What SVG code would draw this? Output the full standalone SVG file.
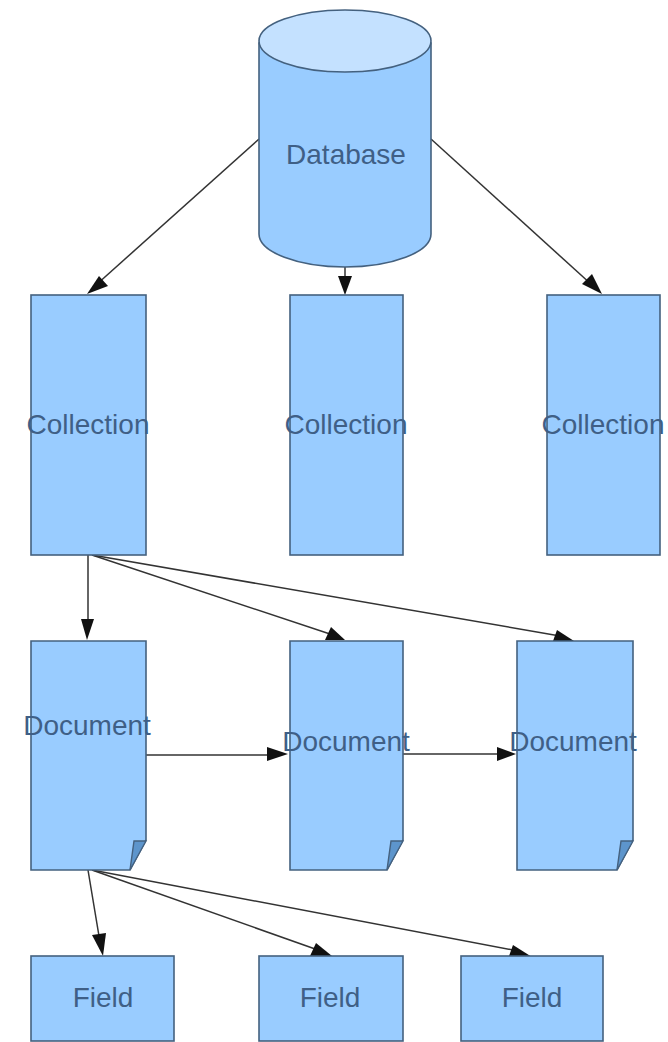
<svg xmlns="http://www.w3.org/2000/svg" width="668" height="1042" viewBox="0 0 668 1042">
<style>
.n{fill:#99ccff;stroke:#44617f;stroke-width:1.6}
.t{font-family:"Liberation Sans",Arial,sans-serif;font-size:28px;fill:#3f5f86;text-anchor:middle}
.c{stroke:#333;stroke-width:1.5;fill:none}
.h{fill:#111;stroke:none}
</style>
<rect width="668" height="1042" fill="#fff"/>
<g id="connectors">
<path class="c" d="M259 139L96 285"/><polygon class="h" points="87,294 99,276 108,286"/>
<path class="c" d="M345 267V280"/><polygon class="h" points="345,295 338,276 352,276"/>
<path class="c" d="M431 139L592 285"/><polygon class="h" points="602,294 582,284 592,274"/>
<path class="c" d="M88 555V625"/><polygon class="h" points="87,640 81,619 94,619"/>
<path class="c" d="M92 555L330 634"/><polygon class="h" points="345,640 325,640 331,627"/>
<path class="c" d="M92 555L560 636"/><polygon class="h" points="574,641 553,641 557,630"/>
<path class="c" d="M146 755H272"/><polygon class="h" points="288,754 267,747 267,761"/>
<path class="c" d="M403 754H500"/><polygon class="h" points="516,754 497,747 497,761"/>
<path class="c" d="M88 870L100 942"/><polygon class="h" points="103,956 92,935 106,933"/>
<path class="c" d="M92 870L318 950"/><polygon class="h" points="332,956 310,956 316,943"/>
<path class="c" d="M92 870L518 951"/><polygon class="h" points="532,957 509,956 513,945"/>
</g>
<g id="database">
<path class="n" d="M259 43V234C259 252 298 267 345 267S431 252 431 234V43Z"/>
<ellipse cx="345" cy="41" rx="86" ry="31" fill="#c4e1ff" stroke="#44617f" stroke-width="1.6"/>
<text class="t" x="346" y="164">Database</text>
</g>
<g id="collection1"><rect class="n" x="31" y="295" width="115" height="260"/><text class="t" x="88" y="434">Collection</text></g>
<g id="collection2"><rect class="n" x="290" y="295" width="113" height="260"/><text class="t" x="346" y="434">Collection</text></g>
<g id="collection3"><rect class="n" x="547" y="295" width="113" height="260"/><text class="t" x="603" y="434">Collection</text></g>
<g id="document1"><path class="n" d="M31 641H146V840L130 870H31Z"/><path d="M134 841H146L130 870Z" fill="#5d95cc" stroke="#44617f" stroke-width="1.4"/><text class="t" x="87" y="735">Document</text></g>
<g id="document2"><path class="n" d="M290 641H403V840L387 870H290Z"/><path d="M391 841H403L387 870Z" fill="#5d95cc" stroke="#44617f" stroke-width="1.4"/><text class="t" x="346" y="751">Document</text></g>
<g id="document3"><path class="n" d="M517 641H633V840L617 870H517Z"/><path d="M621 841H633L617 870Z" fill="#5d95cc" stroke="#44617f" stroke-width="1.4"/><text class="t" x="573" y="751">Document</text></g>
<g id="field1"><rect class="n" x="31" y="956" width="143" height="85"/><text class="t" x="103" y="1007">Field</text></g>
<g id="field2"><rect class="n" x="259" y="956" width="144" height="85"/><text class="t" x="330" y="1007">Field</text></g>
<g id="field3"><rect class="n" x="461" y="956" width="142" height="85"/><text class="t" x="532" y="1007">Field</text></g>
</svg>
